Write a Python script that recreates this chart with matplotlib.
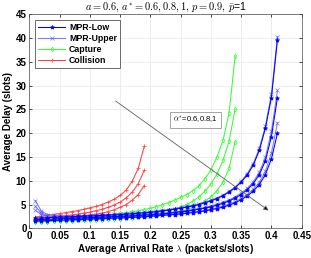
import matplotlib
matplotlib.use("Agg")
import matplotlib.pyplot as plt
import numpy as np

plt.rcParams['mathtext.fontset'] = 'cm'
plt.rcParams['font.family'] = ['Liberation Sans', 'DejaVu Sans']

# arrival rates
lam_col = np.round(np.arange(1, 20) * 0.01, 2)
lam_cap = np.round(np.arange(1, 35) * 0.01, 2)
lam_mpr = np.round(np.arange(1, 42) * 0.01, 2)

# Collision, a* = 0.6, 0.8, 1
col_1 = [2.4, 2.5, 2.7, 2.9, 3.1, 3.3, 3.5, 3.7, 4.0, 4.3, 4.6, 5.0, 5.5, 6.1, 6.9, 8.0, 9.9, 12.6, 17.3]
col_2 = [1.9, 2.0, 2.2, 2.3, 2.5, 2.6, 2.8, 3.0, 3.2, 3.4, 3.7, 4.0, 4.4, 4.9, 5.5, 6.4, 7.6, 9.4, 12.2]
col_3 = [1.6, 1.7, 1.8, 1.9, 2.0, 2.1, 2.3, 2.4, 2.6, 2.8, 3.0, 3.2, 3.5, 3.9, 4.4, 5.0, 5.9, 7.1, 9.0]

# Capture
cap_1 = [1.6, 1.7, 1.8, 1.9, 2.0, 2.1, 2.2, 2.3, 2.4, 2.5, 2.6, 2.7, 2.85, 3.0, 3.15, 3.3, 3.5,
         3.7, 3.95, 4.2, 4.55, 4.95, 5.4, 5.9, 6.5, 7.1, 7.9, 8.9, 10.4, 12.3, 15.0, 18.5, 24.2, 36.2]
cap_2 = [1.45, 1.5, 1.55, 1.6, 1.7, 1.75, 1.8, 1.9, 1.95, 2.05, 2.1, 2.2, 2.3, 2.4, 2.5, 2.6, 2.75,
         2.9, 3.05, 3.2, 3.4, 3.6, 3.85, 4.1, 4.5, 5.0, 5.7, 6.6, 7.8, 9.3, 11.4, 14.3, 18.3, 25.0]
cap_3 = [1.3, 1.35, 1.4, 1.45, 1.5, 1.55, 1.6, 1.65, 1.7, 1.75, 1.8, 1.85, 1.9, 2.0, 2.05, 2.15, 2.25,
         2.35, 2.5, 2.65, 2.8, 2.95, 3.15, 3.35, 3.6, 3.9, 4.4, 5.0, 5.7, 6.6, 7.9, 9.7, 12.6, 18.2]

# MPR lower bound
low_1 = [2.1, 2.2, 2.25, 2.3, 2.35, 2.4, 2.45, 2.5, 2.55, 2.6, 2.65, 2.7, 2.75, 2.8, 2.9, 2.95, 3.05,
         3.15, 3.25, 3.35, 3.5, 3.65, 3.8, 4.0, 4.2, 4.45, 4.7, 5.0, 5.35, 5.75, 6.25, 6.85, 7.6, 8.5,
         9.7, 11.2, 13.3, 16.4, 21.0, 27.5, 39.7]
low_2 = [1.8, 1.85, 1.9, 1.95, 2.0, 2.05, 2.1, 2.15, 2.2, 2.25, 2.3, 2.35, 2.4, 2.45, 2.5, 2.55, 2.6,
         2.7, 2.75, 2.85, 2.95, 3.05, 3.15, 3.3, 3.45, 3.6, 3.8, 4.0, 4.25, 4.5, 4.85, 5.25, 5.75, 6.35,
         7.1, 8.1, 9.4, 11.3, 14.2, 19.3, 27.5]
low_3 = [1.5, 1.55, 1.6, 1.65, 1.7, 1.75, 1.8, 1.85, 1.9, 1.95, 2.0, 2.05, 2.1, 2.15, 2.2, 2.25, 2.3,
         2.35, 2.4, 2.5, 2.6, 2.7, 2.8, 2.9, 3.0, 3.15, 3.3, 3.45, 3.65, 3.9, 4.15, 4.45, 4.85, 5.35,
         6.0, 6.8, 7.8, 9.2, 11.3, 14.6, 20.0]

# MPR upper bound
up_1 = [5.8, 3.6, 2.9, 2.7, 2.65, 2.6, 2.6, 2.65, 2.7, 2.75, 2.8, 2.85, 2.9, 2.95, 3.05, 3.1, 3.2,
        3.3, 3.4, 3.5, 3.65, 3.8, 3.95, 4.15, 4.35, 4.6, 4.85, 5.15, 5.5, 5.9, 6.4, 7.0, 7.75, 8.7,
        9.9, 11.5, 13.6, 16.8, 21.5, 28.2, 40.3]
up_2 = [4.6, 3.2, 2.6, 2.4, 2.3, 2.25, 2.25, 2.3, 2.35, 2.4, 2.45, 2.5, 2.55, 2.6, 2.65, 2.7, 2.75,
        2.85, 2.9, 3.0, 3.1, 3.2, 3.3, 3.45, 3.6, 3.75, 3.95, 4.15, 4.4, 4.7, 5.05, 5.45, 5.95, 6.6,
        7.4, 8.4, 9.8, 11.8, 14.9, 20.4, 29.0]
up_3 = [3.8, 2.9, 2.4, 2.2, 2.1, 2.05, 2.0, 2.0, 2.05, 2.1, 2.15, 2.2, 2.25, 2.3, 2.35, 2.4, 2.45,
        2.5, 2.55, 2.65, 2.75, 2.85, 2.95, 3.05, 3.15, 3.3, 3.45, 3.6, 3.8, 4.05, 4.3, 4.65, 5.05, 5.6,
        6.3, 7.1, 8.2, 9.7, 12.0, 15.8, 22.2]

fig = plt.figure(figsize=(3.11, 2.58), dpi=100)
ax = fig.add_axes([29.3 / 311, 1 - 228.3 / 258, 272.4 / 311, 214 / 258])

ms = 2.5
lw = 0.75
blue = (0, 0, 1)
blue_up = (0.35, 0.35, 1)
green = (0.2, 1, 0.2)
red = (1, 0.25, 0.25)

for i, y in enumerate([low_1, low_2, low_3]):
    ax.plot(lam_mpr, y, '-*', color=blue, lw=lw, ms=ms + 0.5, mew=0.5,
            label='MPR-Low' if i == 0 else None, zorder=4)
for i, y in enumerate([up_1, up_2, up_3]):
    ax.plot(lam_mpr, y, '-x', color=blue_up, lw=lw, ms=ms, mew=0.5, alpha=0.8,
            label='MPR-Upper' if i == 0 else None, zorder=3)
for i, y in enumerate([cap_1, cap_2, cap_3]):
    ax.plot(lam_cap, y, '-d', color=green, lw=lw, ms=ms, mew=0.5, mfc='none',
            label='Capture' if i == 0 else None, zorder=2)
for i, y in enumerate([col_1, col_2, col_3]):
    ax.plot(lam_col, y, '-+', color=red, lw=lw, ms=ms + 0.5, mew=0.5,
            label='Collision' if i == 0 else None, zorder=2)

ax.set_xlim(0, 0.45)
ax.set_ylim(0, 45)
ax.set_xticks(np.arange(0, 0.451, 0.05))
ax.set_xticklabels(['0', '0.05', '0.1', '0.15', '0.2', '0.25', '0.3', '0.35', '0.4', '0.45'])
ax.set_yticks(np.arange(0, 46, 5))
ax.tick_params(labelsize=7, direction='in', length=2, width=0.5, top=True, right=True, pad=2)
for lab in ax.get_xticklabels() + ax.get_yticklabels():
    lab.set_fontweight('bold')
ax.grid(True, color='#e6e6e6', lw=0.5)
ax.set_axisbelow(True)
for s in ax.spines.values():
    s.set_color('#4d4d4d')
    s.set_linewidth(0.5)

ax.set_xlabel(r'Average Arrival Rate $\lambda$ (packets/slots)', fontsize=7, fontweight='bold', labelpad=1)
ax.set_ylabel('Average Delay (slots)', fontsize=7, fontweight='bold', labelpad=2)
ax.set_title(r'$a=0.6,\, a^{*}=0.6, 0.8, 1,\, p=0.9,\, \bar{p}$=1', fontsize=7.5, pad=3)

leg = ax.legend(loc='upper left', prop={'weight': 'bold', 'size': 6.3}, fancybox=False,
                edgecolor='#333333', framealpha=1, borderpad=0.35, labelspacing=0.2,
                handlelength=3.0, handletextpad=0.5, borderaxespad=0.7)
leg.get_frame().set_linewidth(0.5)

ax.annotate('', xy=(0.399, 3.4), xytext=(0.139, 27.1),
            arrowprops=dict(arrowstyle='-|>', color='#808080', lw=0.6,
                            mutation_scale=7, fc='black', ec='#606060'), zorder=6)
ax.text(0.274, 22.8, r'$\alpha^{*}$=0.6,0.8,1', fontsize=5.5, ha='center', va='center',
        bbox=dict(boxstyle='square,pad=0.4', fc='white', ec='#808080', lw=0.5), zorder=7)

fig.savefig('out.png', dpi=100)
